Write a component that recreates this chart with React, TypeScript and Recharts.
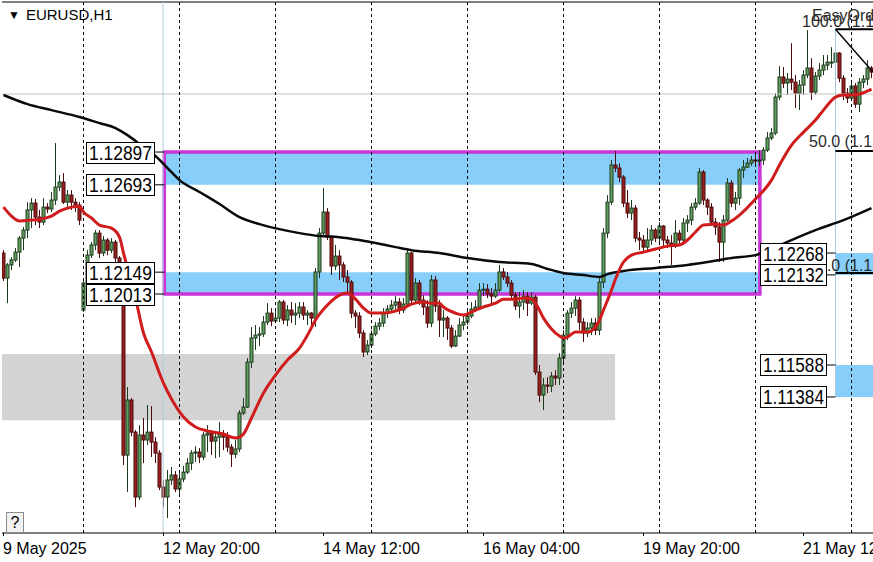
import React from "react";
import {
  ComposedChart,
  Bar,
  Line,
  XAxis,
  YAxis,
  ReferenceArea,
  ReferenceLine,
  ReferenceDot,
} from "recharts";

// ---------- EURUSD H1 candles (bar 0 = 9 May 2025 04:00) ----------
const opens = [
  1.12268, 1.12112, 1.12194, 1.12225, 1.12274, 1.12361, 1.12411, 1.12536, 1.12579, 1.12492,
  1.12461, 1.12554, 1.12542, 1.12598, 1.12679, 1.1271, 1.12585, 1.12629, 1.12585, 1.12567,
  1.11913, 1.12081, 1.12255, 1.12318, 1.12392, 1.12268, 1.12349, 1.12286, 1.12336, 1.12237,
  1.12181, 1.1101, 1.11353, 1.11153, 1.10749, 1.11135, 1.11104, 1.11153, 1.11091, 1.11023,
  1.10811, 1.10749, 1.10855, 1.10886, 1.10799, 1.10861, 1.10904, 1.1096, 1.11023, 1.11029,
  1.10998, 1.11135, 1.11147, 1.11097, 1.11122, 1.11141, 1.11122, 1.1106, 1.11016, 1.11048,
  1.11272, 1.11309, 1.11589, 1.11739, 1.11757, 1.11764, 1.11838, 1.11894, 1.11845, 1.11863,
  1.11963, 1.11851, 1.11913, 1.11882, 1.11894, 1.11932, 1.11882, 1.11894, 1.11863, 1.1215,
  1.12392, 1.12523, 1.12367, 1.12187, 1.12249, 1.12194, 1.12119, 1.12087, 1.11894, 1.11876,
  1.1177, 1.11652, 1.11695, 1.11764, 1.11813, 1.11832, 1.11894, 1.11919, 1.11944, 1.11963,
  1.11913, 1.1195, 1.12268, 1.11975, 1.12081, 1.11975, 1.11932, 1.11832, 1.121, 1.11938,
  1.11851, 1.11863, 1.11801, 1.11689, 1.11751, 1.1182, 1.11838, 1.11876, 1.11919, 1.11932,
  1.12037, 1.12043, 1.12013, 1.12, 1.12037, 1.1215, 1.12119, 1.12081, 1.12006, 1.11938,
  1.11963, 1.12, 1.11956, 1.11994, 1.11527, 1.11384, 1.11446, 1.1144, 1.11502, 1.1149,
  1.11614, 1.11757, 1.11894, 1.11925, 1.11975, 1.11838, 1.1177, 1.11801, 1.11832, 1.11788,
  1.12087, 1.12392, 1.12585, 1.12816, 1.12797, 1.12741, 1.12579, 1.12517, 1.12548, 1.12361,
  1.12349, 1.12305, 1.12349, 1.12411, 1.12361, 1.12436, 1.12349, 1.1233, 1.12311, 1.12392,
  1.12349, 1.12455, 1.12473, 1.12554, 1.12579, 1.12772, 1.12598, 1.12554, 1.12461, 1.1243,
  1.12336, 1.12473, 1.12704, 1.12579, 1.1261, 1.12785, 1.12803, 1.12828, 1.12847, 1.12841,
  1.12847, 1.12909, 1.12984, 1.13015, 1.13239, 1.13364, 1.13326, 1.13351, 1.13332, 1.13264,
  1.13314, 1.13376, 1.1342, 1.1327, 1.1337, 1.13407, 1.13438, 1.13457, 1.13457, 1.13513,
  1.13357, 1.13264, 1.13233, 1.13308, 1.13195, 1.13332, 1.13351, 1.1342,
];

const highs = [
  1.12286, 1.12206, 1.12243, 1.12299, 1.12374, 1.1243, 1.12585, 1.1261, 1.12604, 1.12536,
  1.1261, 1.12579, 1.12648, 1.12953, 1.12753, 1.12766, 1.1266, 1.1266, 1.1261, 1.12585,
  1.121, 1.12286, 1.12336, 1.12411, 1.12411, 1.12374, 1.12361, 1.12361, 1.12349, 1.12249,
  1.122, 1.11434, 1.11365, 1.11166, 1.11197, 1.11241, 1.11322, 1.11315, 1.11122, 1.11041,
  1.10855, 1.10917, 1.10936, 1.10911, 1.10917, 1.10942, 1.10991, 1.11041, 1.11066, 1.11054,
  1.11153, 1.11197, 1.11166, 1.1116, 1.11216, 1.11166, 1.11153, 1.11079, 1.11104, 1.1129,
  1.11365, 1.11614, 1.11807, 1.1182, 1.11807, 1.11876, 1.11956, 1.11925, 1.11925, 1.11975,
  1.11975, 1.11944, 1.11963, 1.11956, 1.11963, 1.11963, 1.11913, 1.119, 1.12175, 1.12423,
  1.12673, 1.12548, 1.1238, 1.12318, 1.12286, 1.12212, 1.12162, 1.121, 1.11913, 1.119,
  1.11788, 1.11726, 1.11788, 1.11838, 1.11863, 1.11925, 1.11944, 1.11975, 1.12, 1.11988,
  1.11988, 1.12286, 1.12274, 1.12112, 1.121, 1.12006, 1.11975, 1.12131, 1.12125, 1.11975,
  1.11913, 1.11876, 1.1182, 1.11788, 1.11863, 1.11882, 1.11913, 1.11963, 1.11975, 1.12081,
  1.12081, 1.12075, 1.1205, 1.12081, 1.12194, 1.12175, 1.1215, 1.121, 1.12025, 1.12025,
  1.12037, 1.12025, 1.12025, 1.12006, 1.11571, 1.1149, 1.11496, 1.11527, 1.11539, 1.11645,
  1.11788, 1.11913, 1.11963, 1.12, 1.11994, 1.11863, 1.11838, 1.11863, 1.11863, 1.12112,
  1.12423, 1.12629, 1.12847, 1.12903, 1.12828, 1.12753, 1.1266, 1.12598, 1.12567, 1.12399,
  1.1238, 1.12423, 1.12442, 1.12423, 1.12461, 1.12442, 1.12374, 1.1238, 1.12473, 1.12411,
  1.12486, 1.12504, 1.12579, 1.1261, 1.12797, 1.12785, 1.1261, 1.12579, 1.12486, 1.12461,
  1.12504, 1.12735, 1.12722, 1.12648, 1.12797, 1.12847, 1.1286, 1.12872, 1.12878, 1.12909,
  1.12928, 1.13021, 1.13046, 1.13264, 1.13432, 1.13426, 1.13389, 1.13575, 1.13376, 1.13345,
  1.13407, 1.13656, 1.13482, 1.13395, 1.13451, 1.13501, 1.13501, 1.1355, 1.13532, 1.13519,
  1.13376, 1.13295, 1.13332, 1.13326, 1.13357, 1.13376, 1.13469, 1.13432,
];

const lows = [
  1.12094, 1.11956, 1.12162, 1.12212, 1.12181, 1.12286, 1.12361, 1.12423, 1.12442, 1.12423,
  1.12442, 1.12517, 1.12523, 1.12567, 1.12654, 1.12573, 1.12554, 1.12536, 1.12523, 1.12442,
  1.119, 1.1205, 1.12237, 1.12286, 1.12237, 1.12249, 1.12255, 1.12268, 1.12212, 1.12162,
  1.10948, 1.1078, 1.11128, 1.10686, 1.1073, 1.1096, 1.11072, 1.10998, 1.1096, 1.10792,
  1.10686, 1.10618, 1.10824, 1.1078, 1.10755, 1.10842, 1.10892, 1.10917, 1.10967, 1.1096,
  1.10979, 1.11029, 1.1101, 1.10991, 1.10998, 1.11041, 1.11029, 1.10936, 1.10991, 1.11029,
  1.11259, 1.11303, 1.11552, 1.11664, 1.11689, 1.11745, 1.1182, 1.11813, 1.11832, 1.11838,
  1.11826, 1.11813, 1.11832, 1.1182, 1.11863, 1.11851, 1.1182, 1.1182, 1.11807, 1.12112,
  1.12374, 1.12349, 1.12131, 1.12162, 1.121, 1.12087, 1.12025, 1.11863, 1.11801, 1.11739,
  1.1162, 1.11633, 1.11676, 1.11751, 1.11788, 1.11807, 1.11863, 1.119, 1.11913, 1.11888,
  1.11894, 1.11938, 1.11944, 1.11956, 1.11944, 1.11882, 1.11801, 1.11807, 1.119, 1.11745,
  1.11745, 1.11726, 1.11676, 1.11683, 1.11745, 1.11788, 1.1182, 1.11863, 1.119, 1.11913,
  1.12, 1.11988, 1.1195, 1.11988, 1.12025, 1.121, 1.12056, 1.11988, 1.11913, 1.11863,
  1.11913, 1.11876, 1.11944, 1.11508, 1.1134, 1.1129, 1.11396, 1.11402, 1.11446, 1.11446,
  1.11589, 1.11726, 1.11863, 1.11876, 1.11788, 1.11714, 1.11745, 1.11757, 1.11757, 1.11757,
  1.1205, 1.12361, 1.12567, 1.12772, 1.1271, 1.12554, 1.12486, 1.12473, 1.12336, 1.12286,
  1.12274, 1.12286, 1.12318, 1.12336, 1.12318, 1.12299, 1.12299, 1.12194, 1.12299, 1.12318,
  1.12318, 1.12399, 1.12442, 1.12536, 1.12567, 1.12567, 1.12504, 1.12436, 1.1238, 1.12212,
  1.12212, 1.12442, 1.12554, 1.12536, 1.12567, 1.12735, 1.12797, 1.1281, 1.12816, 1.1281,
  1.12816, 1.12897, 1.12971, 1.13002, 1.1322, 1.13295, 1.13252, 1.13283, 1.13171, 1.13158,
  1.13252, 1.13357, 1.1322, 1.13252, 1.13345, 1.13376, 1.13407, 1.1342, 1.13432, 1.13332,
  1.1322, 1.13202, 1.1322, 1.13171, 1.13146, 1.13295, 1.13314, 1.13357,
];

const closes = [
  1.12112, 1.12194, 1.12225, 1.12274, 1.12361, 1.12411, 1.12536, 1.12579, 1.12492, 1.12461,
  1.12554, 1.12542, 1.12598, 1.12679, 1.1271, 1.12585, 1.12629, 1.12585, 1.12567, 1.12473,
  1.12081, 1.12255, 1.12318, 1.12392, 1.12268, 1.12349, 1.12286, 1.12336, 1.12237, 1.12181,
  1.1101, 1.11353, 1.11153, 1.10749, 1.11135, 1.11104, 1.11153, 1.11091, 1.11023, 1.10811,
  1.10749, 1.10855, 1.10886, 1.10799, 1.10861, 1.10904, 1.1096, 1.11023, 1.11029, 1.10998,
  1.11135, 1.11147, 1.11097, 1.11122, 1.11141, 1.11122, 1.1106, 1.11016, 1.11048, 1.11272,
  1.11309, 1.11589, 1.11739, 1.11757, 1.11764, 1.11838, 1.11894, 1.11845, 1.11863, 1.11963,
  1.11851, 1.11913, 1.11882, 1.11894, 1.11932, 1.11882, 1.11894, 1.11863, 1.1215, 1.12392,
  1.12523, 1.12367, 1.12187, 1.12249, 1.12194, 1.12119, 1.12087, 1.11894, 1.11876, 1.1177,
  1.11652, 1.11695, 1.11764, 1.11813, 1.11832, 1.11894, 1.11919, 1.11944, 1.11963, 1.11913,
  1.1195, 1.12268, 1.11975, 1.12081, 1.11975, 1.11932, 1.11832, 1.121, 1.11938, 1.11851,
  1.11863, 1.11801, 1.11689, 1.11751, 1.1182, 1.11838, 1.11876, 1.11919, 1.11932, 1.12037,
  1.12043, 1.12013, 1.12, 1.12037, 1.1215, 1.12119, 1.12081, 1.12006, 1.11938, 1.11963,
  1.12, 1.11956, 1.11994, 1.11527, 1.11384, 1.11446, 1.1144, 1.11502, 1.1149, 1.11614,
  1.11757, 1.11894, 1.11925, 1.11975, 1.11838, 1.1177, 1.11801, 1.11832, 1.11788, 1.12087,
  1.12392, 1.12585, 1.12816, 1.12797, 1.12741, 1.12579, 1.12517, 1.12548, 1.12361, 1.12349,
  1.12305, 1.12349, 1.12411, 1.12361, 1.12436, 1.12349, 1.1233, 1.12311, 1.12392, 1.12349,
  1.12455, 1.12473, 1.12554, 1.12579, 1.12772, 1.12598, 1.12554, 1.12461, 1.1243, 1.12336,
  1.12473, 1.12704, 1.12579, 1.1261, 1.12785, 1.12803, 1.12828, 1.12847, 1.12841, 1.12847,
  1.12909, 1.12984, 1.13015, 1.13239, 1.13364, 1.13326, 1.13351, 1.13332, 1.13264, 1.13314,
  1.13376, 1.1342, 1.1327, 1.1337, 1.13407, 1.13438, 1.13457, 1.13457, 1.13513, 1.13357,
  1.13264, 1.13233, 1.13308, 1.13195, 1.13332, 1.13351, 1.1342, 1.13395,
];

// ---------- moving averages (read at sampled bars) ----------
const fastMaBars = [
  0, 2, 4, 7, 9, 12, 14, 17, 19, 20, 22, 24, 27, 29, 30, 32, 33, 35, 37, 40, 42, 45, 48, 51, 55,
  58, 59, 60, 62, 65, 68, 71, 74, 76, 78, 81, 84, 86, 88, 90, 92, 95, 97, 100, 102, 105, 107,
  109, 110, 113, 115, 118, 120, 123, 125, 128, 130, 132, 133, 135, 137, 139, 140, 141, 143,
  146, 148, 149, 150, 152, 153, 155, 157, 160, 163, 166, 169, 171, 173, 175, 178, 180, 182,
  184, 188, 192, 194, 197, 200, 203, 205, 208, 210, 212, 214, 216, 217,
];
const fastMaValues = [
  1.12554, 1.12498, 1.12467, 1.12473, 1.12479, 1.12498, 1.12529, 1.12554, 1.1256, 1.12523,
  1.12486, 1.12442, 1.12423, 1.12367, 1.12268, 1.12087, 1.11988, 1.1177, 1.11652, 1.11458,
  1.11359, 1.11247, 1.11185, 1.1116, 1.11141, 1.11116, 1.11122, 1.11141, 1.11241, 1.11396,
  1.11508, 1.11602, 1.11676, 1.11757, 1.11851, 1.11944, 1.12006, 1.12019, 1.11981, 1.11925,
  1.11894, 1.11894, 1.119, 1.11925, 1.1195, 1.11963, 1.11956, 1.11956, 1.11932, 1.11894,
  1.11882, 1.11913, 1.11932, 1.11956, 1.11981, 1.11981, 1.11988, 1.11981, 1.11956, 1.11863,
  1.11795, 1.11751, 1.11739, 1.11745, 1.11776, 1.11776, 1.11807, 1.11851, 1.11913, 1.12037,
  1.12106, 1.12212, 1.12255, 1.12274, 1.12293, 1.12311, 1.12318, 1.12349, 1.12399, 1.12442,
  1.12448, 1.12442, 1.12467, 1.12504, 1.12604, 1.12722, 1.12816, 1.1294, 1.13021, 1.13096,
  1.13158, 1.13239, 1.13252, 1.13252, 1.13258, 1.13277, 1.13289,
];
const slowMaBars = [
  0, 6, 12, 19, 24, 28, 31, 35, 38, 41, 44, 49, 54, 59, 64, 69, 74, 79, 84, 89, 93, 98, 102,
  109, 116, 124, 132, 136, 140, 145, 149, 151, 155, 163, 171, 176, 182, 188, 192, 197, 203,
  210, 217,
];
const slowMaValues = [
  1.13252, 1.13195, 1.13158, 1.13115, 1.13077, 1.13046, 1.13002, 1.12928, 1.12872, 1.12797,
  1.12722, 1.12648, 1.12573, 1.12492, 1.12448, 1.12417, 1.12392, 1.12374, 1.12367, 1.12349,
  1.1233, 1.12305, 1.12286, 1.12268, 1.12237, 1.12212, 1.122, 1.12169, 1.12144, 1.12131,
  1.12119, 1.12137, 1.12156, 1.12175, 1.12194, 1.12212, 1.12237, 1.12255, 1.12293, 1.12349,
  1.12411, 1.12473, 1.12548,
];

// ---------- axis ----------
const tickBars = [0, 40, 80, 120, 160, 200];
const tickLabels = ["9 May 2025", "12 May 20:00", "14 May 12:00", "16 May 04:00", "19 May 20:00", "21 May 12:00"];
const daySeparatorBars = [20, 44, 68, 92, 116, 140, 164, 188, 212];

// ---------- annotation levels ----------
const rangeBoxBars = [40.2, 189.1];
const rangeBoxTop = [1.12693, 1.12897];
const rangeBoxBottom = [1.12013, 1.12149];
const greyZoneEndBar = 152.9;
const greyZone = [1.11227, 1.11639];
const rightZoneBar = 208;
const rightZoneUpper = [1.12132, 1.12268];
const rightZoneLower = [1.11372, 1.11571];
const fibLevels = [1.13662, 1.12903, 1.12144];
const fibTrendEnd = 1.13395;
const bidLine = 1.13258;
const markerBar = 39.9;

const X_MIN = -0.375;
const X_MAX = 217.375;
const Y_MIN = 1.10525;
const Y_MAX = 1.13831;

const FONT = "'Liberation Sans', Arial, sans-serif";

const fastMap = new Map(fastMaBars.map((b, k) => [b, fastMaValues[k]]));
const slowMap = new Map(slowMaBars.map((b, k) => [b, slowMaValues[k]]));

const rows = closes.map((c, i) => ({
  i,
  open: opens[i],
  high: highs[i],
  low: lows[i],
  close: c,
  range: [lows[i], highs[i]],
  fast: fastMap.has(i) ? fastMap.get(i) : null,
  slow: slowMap.has(i) ? slowMap.get(i) : null,
}));

const Candle = (props: any) => {
  const { x, y, width, height, payload } = props;
  if (!payload || x == null || y == null) return null;
  const { open, close, high, low } = payload;
  const top = Math.min(y, y + height);
  const h = Math.abs(height);
  const span = high - low || 1e-9;
  const py = (v: number) => top + ((high - v) / span) * h;
  const cx = Math.floor(x + width / 2) + 0.5;
  const bull = close >= open;
  const bTop = Math.min(py(open), py(close));
  const bH = Math.max(1, Math.abs(py(open) - py(close)));
  const wick = bull ? "#1e3a1e" : "#4a0c0c";
  return (
    <g>
      <line x1={cx} x2={cx} y1={top} y2={top + h} stroke={wick} strokeWidth={1} />
      <rect
        x={cx - 1.5}
        y={bTop}
        width={3}
        height={bH}
        fill={bull ? "#5e9e5e" : "#9a1f1f"}
        stroke={wick}
        strokeWidth={1}
      />
    </g>
  );
};

const PriceTag = (props: any) => {
  const { cx, cy, text, gap, w } = props;
  if (cx == null || cy == null) return null;
  const h = 21;
  const bx = Math.round(cx - gap - w) + 0.5;
  const by = Math.round(cy - h / 2) + 0.5;
  return (
    <g>
      <line x1={cx - gap} x2={cx} y1={cy} y2={cy} stroke="#000" strokeWidth={1} />
      <rect x={bx} y={by} width={w} height={h} fill="#fff" stroke="#000" strokeWidth={1} />
      <text
        x={bx + 2.5}
        y={by + 17}
        fontSize={20}
        fontFamily={FONT}
        fill="#000"
        textLength={w - 5}
        lengthAdjust="spacingAndGlyphs"
      >
        {text}
      </text>
    </g>
  );
};

const FibText = (props: any) => {
  const { cx, cy, text, dx, dy } = props;
  if (cx == null || cy == null) return null;
  return (
    <text x={cx + dx} y={cy + dy} fontSize={16} fontFamily={FONT} fill="#2a2a2a">
      {text}
    </text>
  );
};

const AxisTick = (props: any) => {
  const { x, y, payload } = props;
  const k = tickBars.indexOf(payload.value);
  return (
    <text x={x - 0.5} y={y + 16} textAnchor="start" fontSize={16} fontFamily={FONT} fill="#000">
      {k >= 0 ? tickLabels[k] : ""}
    </text>
  );
};

export default function App() {
  const leftTags = [
    { p: rangeBoxTop[1], t: "1.12897" },
    { p: rangeBoxTop[0], t: "1.12693" },
    { p: rangeBoxBottom[1], t: "1.12149" },
    { p: rangeBoxBottom[0], t: "1.12013" },
  ];
  const rightTags = [
    { p: rightZoneUpper[1], t: "1.12268" },
    { p: rightZoneUpper[0], t: "1.12132" },
    { p: rightZoneLower[1], t: "1.11588" },
    { p: rightZoneLower[0], t: "1.11384" },
  ];
  return (
    <div
      style={{
        position: "absolute",
        left: 0,
        top: 0,
        width: 873,
        height: 562,
        background: "#fff",
        overflow: "hidden",
      }}
    >
      <ComposedChart
        width={873}
        height={562}
        data={rows}
        margin={{ top: 2, right: 0, bottom: 0, left: 2 }}
      >
        <XAxis
          dataKey="i"
          type="number"
          domain={[X_MIN, X_MAX]}
          allowDataOverflow
          ticks={tickBars}
          interval={0}
          height={29}
          tickSize={3}
          tickLine={{ stroke: "#000" }}
          axisLine={{ stroke: "#000" }}
          tick={(p: any) => <AxisTick {...p} />}
        />
        <YAxis
          type="number"
          domain={[Y_MIN, Y_MAX]}
          allowDataOverflow
          width={0}
          tick={false}
          tickLine={false}
          axisLine={{ stroke: "#000" }}
        />

        {/* zones */}
        <ReferenceArea x1={X_MIN} x2={greyZoneEndBar} y1={greyZone[0]} y2={greyZone[1]} fill="#d3d3d3" fillOpacity={1} stroke="none" />
        <ReferenceArea x1={rangeBoxBars[0]} x2={rangeBoxBars[1]} y1={rangeBoxTop[0]} y2={rangeBoxTop[1]} fill="#87cefa" fillOpacity={1} stroke="none" />
        <ReferenceArea x1={rangeBoxBars[0]} x2={rangeBoxBars[1]} y1={rangeBoxBottom[0]} y2={rangeBoxBottom[1]} fill="#87cefa" fillOpacity={1} stroke="none" />
        <ReferenceArea x1={rightZoneBar} x2={X_MAX} y1={rightZoneUpper[0]} y2={rightZoneUpper[1]} fill="#87cefa" fillOpacity={1} stroke="none" />
        <ReferenceArea x1={rightZoneBar} x2={X_MAX} y1={rightZoneLower[0]} y2={rightZoneLower[1]} fill="#87cefa" fillOpacity={1} stroke="none" />

        {/* background lines */}
        <ReferenceLine y={bidLine} stroke="#c4c4c4" strokeWidth={1} />
        <ReferenceLine y={Y_MAX} stroke="#000" strokeWidth={1} />
        <ReferenceLine x={markerBar} stroke="#b3cbdd" strokeWidth={1} />
        <ReferenceLine
          segment={[
            { x: rightZoneBar, y: fibLevels[0] },
            { x: rightZoneBar, y: rightZoneLower[0] },
          ]}
          stroke="#a9c7de"
          strokeWidth={1}
        />
        {daySeparatorBars.map((b) => (
          <ReferenceLine key={b} x={b} stroke="#000" strokeWidth={1} strokeDasharray="3 3" />
        ))}

        <Bar dataKey="range" barSize={3} shape={(p: any) => <Candle {...p} />} isAnimationActive={false} />

        <Line dataKey="slow" type="monotone" stroke="#0a0a0a" strokeWidth={2.5} dot={false} activeDot={false} connectNulls isAnimationActive={false} />
        <Line dataKey="fast" type="monotone" stroke="#d01c1c" strokeWidth={3} dot={false} activeDot={false} connectNulls isAnimationActive={false} />

        {/* range rectangle */}
        <ReferenceArea
          x1={rangeBoxBars[0]}
          x2={rangeBoxBars[1]}
          y1={rangeBoxBottom[0]}
          y2={rangeBoxTop[1]}
          fill="none"
          fillOpacity={0}
          stroke="#c935d6"
          strokeWidth={3.5}
          strokeOpacity={1}
        />

        {/* fibonacci */}
        {fibLevels.map((lv) => (
          <ReferenceLine
            key={lv}
            segment={[
              { x: rightZoneBar, y: lv },
              { x: X_MAX, y: lv },
            ]}
            stroke="#000"
            strokeWidth={2}
          />
        ))}
        <ReferenceLine
          segment={[
            { x: rightZoneBar, y: fibLevels[0] },
            { x: X_MAX, y: fibTrendEnd },
          ]}
          stroke="#000"
          strokeWidth={1.5}
        />
        <ReferenceDot x={rightZoneBar} y={fibLevels[0]} r={0} shape={(p: any) => <FibText {...p} text="EasyOrder" dx={-23.5} dy={-8} />} />
        <ReferenceDot x={rightZoneBar} y={fibLevels[0]} r={0} shape={(p: any) => <FibText {...p} text="100.0 (1.13662)" dx={-33.5} dy={-2} />} />
        <ReferenceDot x={rightZoneBar} y={fibLevels[1]} r={0} shape={(p: any) => <FibText {...p} text="50.0 (1.12903)" dx={-26.5} dy={-4} />} />
        <ReferenceDot x={rightZoneBar} y={fibLevels[2]} r={0} shape={(p: any) => <FibText {...p} text="0.0 (1.12144)" dx={-17.5} dy={-2} />} />

        {/* price tags */}
        {leftTags.map((t) => (
          <ReferenceDot key={t.t} x={rangeBoxBars[0]} y={t.p} r={0} shape={(p: any) => <PriceTag {...p} text={t.t} gap={10} w={68} />} />
        ))}
        {rightTags.map((t) => (
          <ReferenceDot key={t.t} x={rightZoneBar} y={t.p} r={0} shape={(p: any) => <PriceTag {...p} text={t.t} gap={10} w={66} />} />
        ))}
      </ComposedChart>

      <div
        style={{
          position: "absolute",
          left: 8,
          top: 7,
          fontFamily: FONT,
          fontSize: 15,
          lineHeight: "16px",
          color: "#000",
          whiteSpace: "nowrap",
        }}
      >
        <span style={{ fontSize: 12, marginRight: 6, position: "relative", top: -1 }}>▼</span>
        EURUSD,H1
      </div>
      <div
        style={{
          position: "absolute",
          left: 6,
          top: 512,
          width: 16,
          height: 19,
          border: "1px solid #8a8a8a",
          background: "#f2f2f2",
          fontFamily: FONT,
          fontSize: 16,
          lineHeight: "19px",
          textAlign: "center",
          color: "#000",
        }}
      >
        ?
      </div>
    </div>
  );
}
